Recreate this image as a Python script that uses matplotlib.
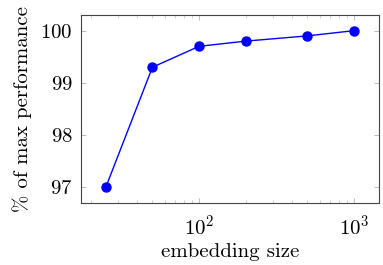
import numpy as np
import matplotlib
matplotlib.use("Agg")
import matplotlib.pyplot as plt

# data
emb_size = [25, 50, 100, 200, 500, 1000]
perf = [97.0, 99.3, 99.7, 99.8, 99.9, 100.0]

plt.rcParams['font.family'] = 'cmr10'
plt.rcParams['mathtext.fontset'] = 'cm'
plt.rcParams['axes.formatter.use_mathtext'] = True
plt.rcParams['font.size'] = 15

fig = plt.figure(figsize=(3.83, 2.65), dpi=100)
ax = fig.add_axes([81/383, 1-203/265, (379-81)/383, (203-15)/265])

ax.plot(emb_size, perf, color='blue', lw=1, marker='o', markersize=6.5)
ax.set_xscale('log')
ax.set_xlim(17.3, 1450)
ax.set_ylim(96.7, 100.3)
ax.set_yticks([97, 98, 99, 100])

ax.tick_params(which='both', direction='in', top=True, right=True, color='#bbbbbb')
ax.tick_params(which='major', length=3.5, width=0.7, pad=6)
ax.tick_params(axis='x', which='major', pad=8)
ax.tick_params(which='minor', length=2, width=0.5)
for s in ax.spines.values():
    s.set_linewidth(0.8)
    s.set_color('#444444')

ax.set_xlabel("embedding size", labelpad=3)
ax.set_ylabel("% of max performance", labelpad=6)

plt.savefig("out.png", dpi=100)
